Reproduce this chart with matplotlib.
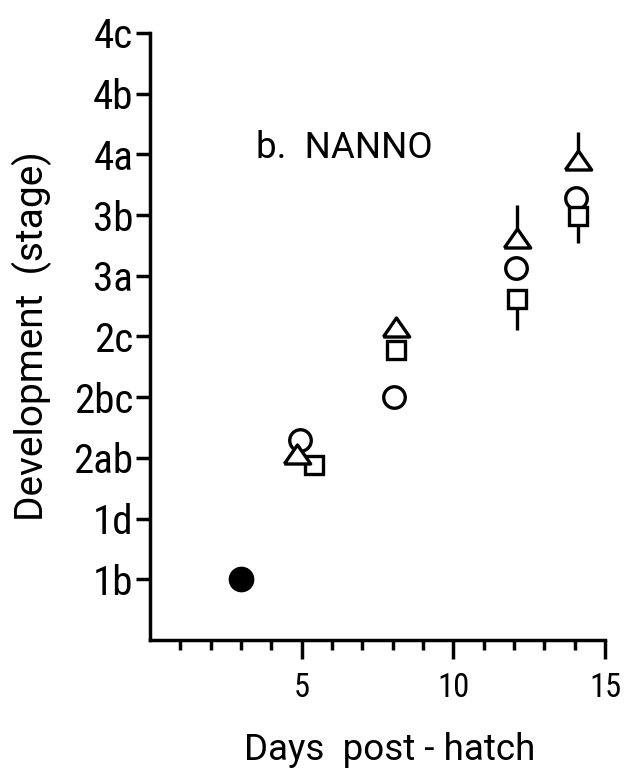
import matplotlib
matplotlib.use("Agg")
import matplotlib.pyplot as plt
from matplotlib.ticker import FixedLocator
import numpy as np

NARROW = ['Roboto Condensed', 'Roboto', 'DejaVu Sans']
REGULAR = ['Roboto', 'DejaVu Sans']
plt.rcParams['font.family'] = NARROW

# Developmental stage scale (ordinal positions 1..10)
stage_labels = ["1b", "1d", "2ab", "2bc", "2c", "3a", "3b", "4a", "4b", "4c"]
stage_pos = list(range(1, len(stage_labels) + 1))

# Mean stage per treatment (days post-hatch, stage position)
start_day = [3.0]
start_stage = [1.0]

tri_day = [4.85, 8.1, 12.1, 14.1]
tri_stage = [3.06, 5.15, 6.63, 7.91]
tri_err_up = [0.0, 0.0, 0.54, 0.46]

circ_day = [4.95, 8.05, 12.05, 14.05]
circ_stage = [3.29, 4.00, 6.13, 7.28]

sq_day = [5.4, 8.1, 12.1, 14.1]
sq_stage = [2.88, 4.78, 5.62, 6.99]
sq_err_down = [0.0, 0.0, 0.51, 0.45]

# a slightly flattened open triangle
tri_marker = [(-1.0, -0.72), (1.0, -0.72), (0.0, 0.72), (-1.0, -0.72)]

fig = plt.figure(figsize=(6.25, 7.78), dpi=100)
ax = fig.add_axes([0.24, 0.1774, 0.728, 0.7802])

lw = 2.5
edge = dict(markerfacecolor="white", markeredgecolor="black", markeredgewidth=2.4,
            linestyle="none", zorder=3)

# one-sided error bars drawn beneath the markers
ax.errorbar(tri_day, tri_stage, yerr=[np.zeros(len(tri_err_up)), tri_err_up],
            fmt="none", ecolor="black", elinewidth=2.4, capsize=0, zorder=2)
ax.errorbar(sq_day, sq_stage, yerr=[sq_err_down, np.zeros(len(sq_err_down))],
            fmt="none", ecolor="black", elinewidth=2.4, capsize=0, zorder=2)

ax.plot(circ_day, circ_stage, marker="o", markersize=15.5, **edge)
ax.plot(sq_day, sq_stage, marker="s", markersize=13.5, **edge)
ax.plot(tri_day, tri_stage, marker=tri_marker, markersize=19, **edge)
ax.plot(start_day, start_stage, marker="o", markersize=17.5, color="black",
        linestyle="none", zorder=3)

ax.set_xlim(0, 15)
ax.set_ylim(0, 10)

for side in ("top", "right"):
    ax.spines[side].set_visible(False)
for side in ("left", "bottom"):
    ax.spines[side].set_linewidth(lw)

ax.set_yticks(stage_pos)
ax.set_yticklabels(stage_labels, fontsize=29.5)
ax.tick_params(axis="y", direction="out", length=10, width=lw, pad=2)

ax.set_xticks([5, 10, 15])
ax.set_xticklabels(["5", "10", "15"], fontsize=23.5)
ax.xaxis.set_minor_locator(FixedLocator([d for d in range(1, 15) if d % 5 != 0]))
ax.tick_params(axis="x", which="major", direction="out", length=14, width=lw, pad=9)
ax.tick_params(axis="x", which="minor", direction="out", length=7, width=lw)

ax.set_xlabel("Days  post - hatch", fontsize=26.5, family=REGULAR)
ax.xaxis.set_label_coords(0.527, -0.152)
ax.set_ylabel("Development  (stage)", fontsize=28, family=REGULAR)
ax.yaxis.set_label_coords(-0.215, 0.5)

ax.text(3.5, 8.1, "b.  NANNO", fontsize=26.5, family=REGULAR, va="center", ha="left")

fig.savefig("out.png", dpi=100, facecolor="white")
